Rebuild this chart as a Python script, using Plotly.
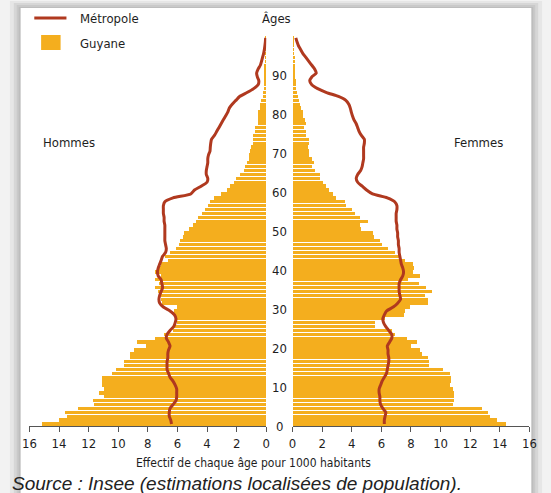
import plotly.graph_objects as go

W, H = 551, 493

ages = list(range(0, 100))

guyane_hommes = [
    15.1, 14.0, 13.4, 13.6, 12.7, 11.6, 11.7, 10.9, 11.3, 10.9,
    11.1, 11.1, 11.1, 10.4, 10.1, 9.6, 9.6, 9.2, 9.2, 8.9,
    8.1, 8.7, 7.5, 6.9, 6.3, 6.2, 6.0, 6.1, 6.2, 6.2,
    6.0, 7.0, 7.1, 7.1, 7.3, 7.5, 7.2, 7.5, 7.1, 7.5,
    7.3, 7.1, 6.6, 6.8, 6.5, 6.1, 5.9, 5.8, 5.6, 5.5,
    5.2, 4.9, 4.7, 4.6, 4.3, 4.1, 3.9, 3.8, 3.5, 3.0,
    2.6, 2.4, 2.15, 2.0, 1.75, 1.5, 1.4, 1.3, 1.15, 1.15,
    1.05, 1.0, 0.9, 0.85, 0.85, 0.72, 0.72, 0.55, 0.55, 0.5,
    0.5, 0.4, 0.4, 0.33, 0.18, 0.18, 0.1, 0.1, 0.1, 0.1,
    0.07, 0.07, 0.06, 0.05, 0.04, 0.03, 0.03, 0.02, 0.02, 0.02,
]

guyane_femmes = [
    14.4, 13.8, 13.3, 13.2, 12.8, 10.8, 10.9, 10.9, 10.9, 10.8,
    10.6, 10.7, 10.7, 10.6, 10.1, 9.2, 9.2, 9.1, 8.7, 8.6,
    8.0, 8.4, 7.7, 6.9, 6.7, 5.55, 5.55, 6.2, 7.5, 7.6,
    7.9, 9.1, 9.1, 8.9, 9.4, 9.0, 8.5, 7.8, 8.6, 8.1,
    8.2, 8.1, 7.6, 7.2, 6.9, 6.4, 6.0, 5.9, 5.5, 5.4,
    4.6, 4.5, 5.1, 4.5, 4.2, 4.0, 3.6, 3.5, 2.9, 2.7,
    2.4, 2.2, 2.0, 1.8, 1.8, 1.5, 1.3, 1.45, 1.3, 1.1,
    1.05, 1.0, 1.05, 1.1, 0.85, 0.85, 0.75, 0.85, 0.8, 0.7,
    0.65, 0.55, 0.45, 0.4, 0.35, 0.3, 0.2, 0.2, 0.18, 0.15,
    0.13, 0.12, 0.1, 0.08, 0.07, 0.06, 0.05, 0.04, 0.03, 0.02,
]

metropole_hommes = [
    6.4, 6.45, 6.55, 6.55, 6.5, 6.3, 6.1, 6.05, 6.05, 6.05,
    6.15, 6.3, 6.5, 6.6, 6.7, 6.7, 6.7, 6.65, 6.65, 6.6,
    6.5, 6.6, 6.75, 6.7, 6.5, 6.25, 6.15, 6.1, 6.2, 6.5,
    6.95, 7.2, 7.25, 7.2, 7.1, 7.0, 7.05, 7.1, 7.3, 7.35,
    7.3, 7.2, 7.1, 7.0, 6.8, 6.75, 6.8, 6.85, 6.85, 6.85,
    6.85, 6.85, 6.9, 6.9, 6.95, 6.95, 6.95, 6.85, 6.3, 5.1,
    4.85, 4.4, 4.0, 3.95, 4.05, 4.05, 4.0, 3.95, 3.95, 3.9,
    3.8, 3.78, 3.75, 3.7, 3.5, 3.35, 3.2, 3.05, 2.9, 2.75,
    2.6, 2.5, 2.3, 2.05, 1.8, 1.3, 0.85, 0.55, 0.5, 0.6,
    0.65, 0.55, 0.4, 0.32, 0.25, 0.18, 0.13, 0.09, 0.06, 0.04,
]

metropole_femmes = [
    6.2, 6.2, 6.25, 6.3, 6.1, 5.95, 5.9, 5.9, 5.85, 5.85,
    5.95, 6.05, 6.2, 6.35, 6.4, 6.45, 6.5, 6.5, 6.45, 6.45,
    6.4, 6.55, 6.7, 6.7, 6.5, 6.3, 6.15, 6.1, 6.2, 6.35,
    6.8, 7.1, 7.3, 7.25, 7.2, 7.2, 7.2, 7.3, 7.45, 7.5,
    7.45, 7.35, 7.3, 7.25, 7.2, 7.2, 7.15, 7.15, 7.1, 7.1,
    7.05, 7.05, 7.0, 7.0, 7.0, 7.05, 7.05, 6.9, 6.4, 5.4,
    5.0, 4.7, 4.4, 4.3, 4.4, 4.6, 4.7, 4.75, 4.8, 4.8,
    4.8, 4.8, 4.85, 4.85, 4.65, 4.5, 4.4, 4.3, 4.15, 4.05,
    3.97, 3.9, 3.8, 3.6, 3.1, 2.3, 1.7, 1.3, 1.16, 1.3,
    1.6, 1.5, 1.3, 1.1, 0.9, 0.7, 0.55, 0.4, 0.3, 0.22,
]

x_ticks = [0, 2, 4, 6, 8, 10, 12, 14, 16]
age_ticks = [0, 10, 20, 30, 40, 50, 60, 70, 80, 90]

BAR = "#f4ae1e"
LINE = "#b0391f"
TXT = "#1e1e1e"
FONT = "Liberation Sans Narrow, DejaVu Sans Condensed, Arial Narrow, sans-serif"


def px(x):
    return x / W


def py(y):
    return 1 - y / H


yc = [a + 0.5 for a in ages]

fig = go.Figure()
fig.add_trace(go.Bar(x=guyane_hommes, y=yc, orientation="h", width=0.86,
                     marker=dict(color=BAR, line=dict(width=0)),
                     xaxis="x", yaxis="y", showlegend=False, name="Guyane"))
fig.add_trace(go.Bar(x=guyane_femmes, y=yc, orientation="h", width=0.86,
                     marker=dict(color=BAR, line=dict(width=0)),
                     xaxis="x2", yaxis="y2", showlegend=False, name="Guyane"))
fig.add_trace(go.Scatter(x=metropole_hommes, y=yc, mode="lines",
                         line=dict(color=LINE, width=3, shape="spline", smoothing=0.6),
                         xaxis="x", yaxis="y", showlegend=False, name="Métropole"))
fig.add_trace(go.Scatter(x=metropole_femmes, y=yc, mode="lines",
                         line=dict(color=LINE, width=3, shape="spline", smoothing=0.6),
                         xaxis="x2", yaxis="y2", showlegend=False, name="Métropole"))

xax = dict(showgrid=False, zeroline=False, showline=True, linecolor="#555555",
           linewidth=1, ticks="outside", ticklen=5, tickcolor="#555555",
           tickvals=x_ticks, ticktext=[str(t) for t in x_ticks],
           tickfont=dict(family=FONT, size=13, color=TXT), fixedrange=True)
yax = dict(showgrid=False, zeroline=False, showline=False, showticklabels=False,
           ticks="", range=[0, 100], domain=[py(426), py(36)], fixedrange=True)

shapes = []
# card shadow
for (x0, y0, x1, col) in [(3, 1, 549, "#e6e6e6"), (7, 3, 545, "#d6d6d6"),
                          (10, 5, 542, "#c9c9c9"), (12, 7, 540, "#bdbdbd")]:
    shapes.append(dict(type="rect", xref="paper", yref="paper", layer="below",
                       x0=px(x0), x1=px(x1), y0=0, y1=py(y0),
                       fillcolor=col, line=dict(width=0)))
shapes.append(dict(type="rect", xref="paper", yref="paper", layer="below",
                   x0=px(14), x1=px(538), y0=0, y1=py(8),
                   fillcolor="white", line=dict(width=0)))
# legend symbols
shapes.append(dict(type="line", xref="paper", yref="paper",
                   x0=px(28), x1=px(61), y0=py(18), y1=py(18),
                   line=dict(color=LINE, width=3)))
shapes.append(dict(type="rect", xref="paper", yref="paper",
                   x0=px(35), x1=px(55), y0=py(50), y1=py(35),
                   fillcolor=BAR, line=dict(width=0)))

ann = []


def txt(x, y, s, size=13, xanchor="center", family=FONT, italic=False, color=TXT):
    t = f"<i>{s}</i>" if italic else s
    ann.append(dict(x=px(x), y=py(y), xref="paper", yref="paper", text=t,
                    showarrow=False, xanchor=xanchor, yanchor="middle",
                    font=dict(family=family, size=size, color=color)))


txt(73, 18, "Métropole", xanchor="left")
txt(73, 44, "Guyane", xanchor="left")
txt(277, 19, "Âges")
txt(35, 142, "Hommes", xanchor="left")
txt(511, 142, "Femmes", xanchor="right")
txt(253, 463, "Effectif de chaque âge pour 1000 habitants", size=12)
txt(3, 483, "Source : Insee (estimations localisées de population).", size=19,
    xanchor="left", family="Liberation Sans, Arial, sans-serif", italic=True,
    color="#222222")

for a in age_ticks:
    ann.append(dict(x=px(280), y=a, xref="paper", yref="y", text=str(a),
                    showarrow=False, xanchor="center", yanchor="middle",
                    font=dict(family=FONT, size=13, color=TXT)))

fig.update_layout(
    width=W, height=H,
    margin=dict(l=0, r=0, t=0, b=0),
    paper_bgcolor="#f2f2f2",
    plot_bgcolor="rgba(0,0,0,0)",
    barmode="overlay",
    bargap=0,
    xaxis=dict(xax, domain=[px(23), px(266)], range=[16, 0], anchor="y"),
    xaxis2=dict(xax, domain=[px(293), px(536)], range=[0, 16], anchor="y2"),
    yaxis=dict(yax, anchor="x"),
    yaxis2=dict(yax, anchor="x2"),
    shapes=shapes,
    annotations=ann,
    showlegend=False,
)

fig.write_html(
    "out.html",
    config={"responsive": False, "displayModeBar": False},
    post_script="document.body.style.margin='0';document.body.style.overflow='hidden';",
)
